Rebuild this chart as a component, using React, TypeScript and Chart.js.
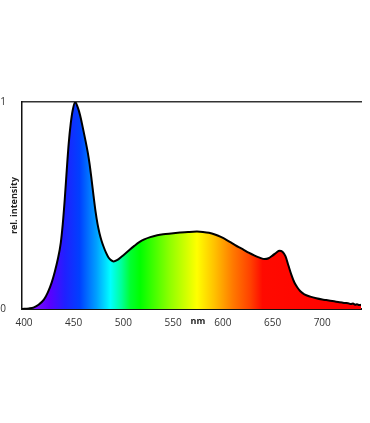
import React, { useEffect, useRef } from "react";
import { Chart, registerables } from "chart.js";

Chart.register(...registerables);

const wavelengths = [
  398, 405, 410, 415, 420, 424, 428, 431, 434, 437, 439, 441, 443, 445, 447, 449, 451.5, 454, 456.5, 459,
  461.5, 464, 466, 468, 470, 472, 474, 476, 478, 480, 482.5, 485, 487.5, 490, 494, 498, 502, 506, 511, 516, 521,
  527, 534, 540, 548, 557, 565, 574, 580, 586, 592, 598, 604, 610, 616, 621, 626, 632, 637, 642, 646,
  650, 654, 657, 660, 663, 666, 669, 672, 675, 678, 682, 688, 694, 700, 704, 708, 712, 716, 720, 723,
  726, 729, 731, 733, 735, 737, 739,
];
const intensity = [
  0.0, 0.003, 0.008, 0.022, 0.045, 0.08, 0.13, 0.18, 0.24, 0.32, 0.41, 0.53, 0.67, 0.8, 0.895, 0.96, 1.0, 0.975, 0.935, 0.88,
  0.822, 0.76, 0.7, 0.625, 0.545, 0.47, 0.41, 0.365, 0.33, 0.302, 0.272, 0.249, 0.236, 0.23, 0.237, 0.252, 0.268, 0.285, 0.305, 0.323, 0.336,
  0.347, 0.356, 0.361, 0.365, 0.369, 0.372, 0.374, 0.372, 0.368, 0.36, 0.348, 0.333, 0.316, 0.299, 0.286, 0.272, 0.258, 0.248, 0.241, 0.245,
  0.258, 0.273, 0.282, 0.277, 0.255, 0.21, 0.165, 0.128, 0.104, 0.086, 0.071, 0.06, 0.052, 0.046, 0.043, 0.04, 0.037, 0.034, 0.031, 0.029,
  0.028, 0.024, 0.026, 0.021, 0.023, 0.019, 0.02,
];
const xTicks = [400, 450, 500, 550, 600, 650, 700];
const yTicks = [0, 1];

const spectrumNm = [398, 410, 426, 441, 456, 473, 487, 498, 507, 517, 547, 574, 592, 610, 628, 640, 739];
const spectrumColors = [
  "#8a3cff", "#7a10ff", "#5a00ff", "#2020ff", "#0040ff", "#00a0ff", "#00ffff", "#00ff9a", "#00ff30", "#00ff00",
  "#90ff00", "#ffff00", "#ffc000", "#ff7a00", "#ff4000", "#ff0a00", "#ff0000",
];

const FONT = "'Open Sans', 'Lato', sans-serif";

export default function App() {
  const ref = useRef<HTMLCanvasElement | null>(null);

  useEffect(() => {
    if (!ref.current) return;
    const nmLabel = {
      id: "nmLabel",
      afterDraw(chart: any) {
        const x = chart.scales.x;
        const c = chart.ctx;
        c.save();
        c.font = `bold 9px ${FONT}`;
        c.fillStyle = "#222";
        c.textAlign = "center";
        c.textBaseline = "middle";
        const px = (x.getPixelForValue(550) + x.getPixelForValue(600)) / 2;
        c.fillText("nm", px, x.top + 12);
        c.restore();
      },
    };
    const chart = new Chart(ref.current, {
      type: "line",
      data: {
        datasets: [
          {
            data: wavelengths.map((w, i) => ({ x: w, y: intensity[i] })),
            borderColor: "#000",
            borderWidth: 2,
            pointRadius: 0,
            tension: 0.4,
            cubicInterpolationMode: "monotone",
            fill: "origin",
            backgroundColor: (ctx: any) => {
              const chart = ctx.chart;
              const area = chart.chartArea;
              if (!area) return "transparent";
              const sx = chart.scales.x;
              const g = chart.ctx.createLinearGradient(area.left, 0, area.right, 0);
              spectrumNm.forEach((nm, i) => {
                let o = (sx.getPixelForValue(nm) - area.left) / (area.right - area.left);
                o = Math.max(0, Math.min(1, o));
                g.addColorStop(o, spectrumColors[i]);
              });
              return g;
            },
          },
        ],
      },
      options: {
        responsive: false,
        animation: false,
        layout: { padding: { left: 0, top: 102, right: 9, bottom: 94 } },
        plugins: { legend: { display: false }, tooltip: { enabled: false } },
        scales: {
          x: {
            type: "linear",
            min: 398,
            max: 739,
            afterBuildTicks: (s: any) => {
              s.ticks = xTicks.map((v) => ({ value: v }));
            },
            afterFit: (s: any) => {
              s.height = 20;
            },
            grid: { display: false },
            border: { display: true, color: "#111", width: 2 },
            ticks: { color: "#333", font: { family: FONT, size: 10 }, padding: 0, maxRotation: 0 },
          },
          xTop: {
            type: "linear",
            position: "top",
            min: 398,
            max: 739,
            afterFit: (s: any) => {
              s.height = 0;
            },
            grid: { display: false },
            border: { display: true, color: "#333", width: 1.5 },
            ticks: { display: false },
          },
          y: {
            min: 0,
            max: 1,
            afterBuildTicks: (s: any) => {
              s.ticks = yTicks.map((v) => ({ value: v }));
            },
            afterFit: (s: any) => {
              s.width = 22;
            },
            grid: { display: false },
            border: { display: true, color: "#111", width: 1.5 },
            ticks: { color: "#333", font: { family: FONT, size: 10 }, padding: 8 },
            title: {
              display: true,
              text: "rel. intensity",
              color: "#222",
              font: { family: FONT, size: 9, weight: "bold" },
              padding: { top: 9, bottom: 0 },
            },
          },
        },
      },
      plugins: [nmLabel],
    });
    return () => chart.destroy();
  }, []);

  return (
    <div style={{ position: "absolute", left: 0, top: 0, width: 370, height: 423, background: "#fff" }}>
      <canvas ref={ref} width={370} height={423} />
    </div>
  );
}
